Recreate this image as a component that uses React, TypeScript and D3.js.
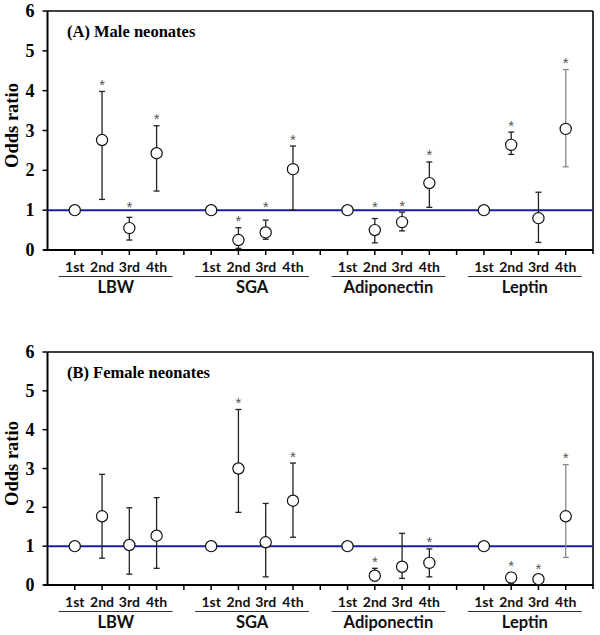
import * as d3 from "d3";

const quartiles = ["1st", "2nd", "3rd", "4th"];
const groups = ["LBW", "SGA", "Adiponectin", "Leptin"];
const yTicks = [0, 1, 2, 3, 4, 5, 6];

// (A) Male neonates
const maleOR = [1, 2.76, 0.55, 2.43, 1, 0.25, 0.44, 2.03, 1, 0.5, 0.7, 1.68, 1, 2.64, 0.8, 3.04];
const maleLo = [null, 1.27, 0.25, 1.48, null, 0.04, 0.27, 1.0, null, 0.18, 0.48, 1.07, null, 2.4, 0.19, 2.09];
const maleHi = [null, 3.98, 0.82, 3.12, null, 0.56, 0.75, 2.61, null, 0.79, 0.95, 2.21, null, 2.96, 1.45, 4.53];
const maleSig = [0, 1, 1, 1, 0, 1, 1, 1, 0, 1, 1, 1, 0, 1, 0, 1];

// (B) Female neonates
const femaleOR = [1, 1.77, 1.03, 1.27, 1, 3.0, 1.1, 2.17, 1, 0.24, 0.47, 0.57, 1, 0.19, 0.15, 1.77];
const femaleLo = [null, 0.69, 0.28, 0.43, null, 1.87, 0.21, 1.23, null, 0.11, 0.17, 0.21, null, 0.03, 0.03, 0.71];
const femaleHi = [null, 2.85, 1.99, 2.25, null, 4.52, 2.1, 3.14, null, 0.43, 1.33, 0.93, null, 0.32, 0.24, 3.1];
const femaleSig = [0, 0, 0, 0, 0, 1, 0, 1, 0, 1, 0, 1, 0, 1, 1, 1];

const serif = "'Liberation Serif', 'Times New Roman', serif";
const sans = "Lato, 'Open Sans', sans-serif";

type PanelProps = {
  top: number;
  bottom: number;
  title: string;
  or: number[];
  lo: (number | null)[];
  hi: (number | null)[];
  sig: number[];
};

// slot index on x: groups of 4 with one empty slot between them
const slot = (i: number) => Math.floor(i / 4) * 5 + (i % 4) + 1;

const Panel = ({ top, bottom, title, or, lo, hi, sig }: PanelProps) => {
  const x = d3.scaleLinear().domain([0, 20]).range([47.5, 593]);
  const y = d3.scaleLinear().domain([0, 6]).range([bottom, top]);
  const x0 = x(0);
  const x1 = x(20);

  // star centre ~10px above the upper cap, kept clear of the reference line
  const starY = (h: number) => {
    let c = y(h) - 10;
    if (Math.abs(c - y(1)) < 6) c = y(1) - 7;
    return c + 8.5;
  };

  return (
    <g>
      {/* frame */}
      <line x1={x0} x2={x1} y1={y(6)} y2={y(6)} stroke="#000" strokeWidth={1.6} />
      <line x1={x1} x2={x1} y1={y(6)} y2={y(0) + 4} stroke="#000" strokeWidth={1.6} />
      <line x1={x0} x2={x0} y1={y(6)} y2={y(0)} stroke="#000" strokeWidth={2} />
      <line x1={x0 - 4} x2={x1} y1={y(0)} y2={y(0)} stroke="#000" strokeWidth={2} />

      {/* y ticks */}
      {yTicks.map((t) => (
        <g key={t}>
          <line x1={x0 - 5} x2={x0} y1={y(t)} y2={y(t)} stroke="#000" strokeWidth={1.5} />
          <text
            x={x0 - 13}
            y={y(t) + 6}
            textAnchor="end"
            fontFamily={serif}
            fontWeight="bold"
            fontSize={18}
          >
            {t}
          </text>
        </g>
      ))}
      <text
        transform={`translate(18, ${(top + bottom) / 2 - 5}) rotate(-90)`}
        textAnchor="middle"
        fontFamily={serif}
        fontWeight="bold"
        fontSize={18.5}
      >
        Odds ratio
      </text>

      {/* x ticks */}
      {d3.range(1, 20).map((k) => (
        <line key={k} x1={x(k)} x2={x(k)} y1={y(0)} y2={y(0) + 5} stroke="#000" strokeWidth={1.5} />
      ))}

      {/* reference line */}
      <line x1={x0} x2={x1} y1={y(1)} y2={y(1)} stroke="#1c1ca0" strokeWidth={2} />

      {/* category labels */}
      {groups.map((g, gi) => {
        const a = x(gi * 5 + 1);
        const b = x(gi * 5 + 4);
        return (
          <g key={g}>
            {quartiles.map((q, qi) => (
              <text
                key={q}
                x={x(gi * 5 + qi + 1)}
                y={y(0) + 22}
                textAnchor="middle"
                fontFamily={sans}
                fontWeight="bold"
                fontSize={14}
                fill="#111"
              >
                {q}
              </text>
            ))}
            <line x1={a - 16} x2={b + 16} y1={y(0) + 26.5} y2={y(0) + 26.5} stroke="#333" strokeWidth={1} />
            <text
              x={(a + b) / 2}
              y={y(0) + 43}
              textAnchor="middle"
              fontFamily={sans}
              fontWeight="bold"
              fontSize={16.5}
              fill="#111"
            >
              {g}
            </text>
          </g>
        );
      })}

      {/* error bars, points, stars */}
      {or.map((v, i) => {
        const cx = x(slot(i));
        const l = lo[i];
        const h = hi[i];
        const grey = i === 15;
        const col = grey ? "#8a8a8a" : "#222";
        return (
          <g key={i}>
            {l !== null && h !== null && (
              <g stroke={col} strokeWidth={1.3}>
                <line x1={cx} x2={cx} y1={y(l)} y2={y(h)} />
                <line x1={cx - 3} x2={cx + 3} y1={y(l)} y2={y(l)} />
                <line x1={cx - 3} x2={cx + 3} y1={y(h)} y2={y(h)} />
              </g>
            )}
            <circle cx={cx} cy={y(v)} r={5.6} fill="#fff" stroke="#111" strokeWidth={1.2} />
            {sig[i] === 1 && h !== null && (
              <text
                x={cx}
                y={starY(h)}
                textAnchor="middle"
                fontFamily="'Liberation Sans', Arial, sans-serif"
                fontSize={15}
                fill="#555"
              >
                *
              </text>
            )}
          </g>
        );
      })}

      {/* panel title */}
      <text x={67} y={top + 26} fontFamily={serif} fontWeight="bold" fontSize={16.5}>
        {title}
      </text>
    </g>
  );
};

const App = () => {
  return (
    <svg
      width={600}
      height={635}
      style={{ position: "absolute", left: 0, top: 0, background: "#fff" }}
    >
      <rect width={600} height={635} fill="#fff" />
      <Panel
        top={11}
        bottom={250}
        title="(A) Male neonates"
        or={maleOR}
        lo={maleLo}
        hi={maleHi}
        sig={maleSig}
      />
      <Panel
        top={352}
        bottom={585}
        title="(B) Female neonates"
        or={femaleOR}
        lo={femaleLo}
        hi={femaleHi}
        sig={femaleSig}
      />
    </svg>
  );
};

export default App;
